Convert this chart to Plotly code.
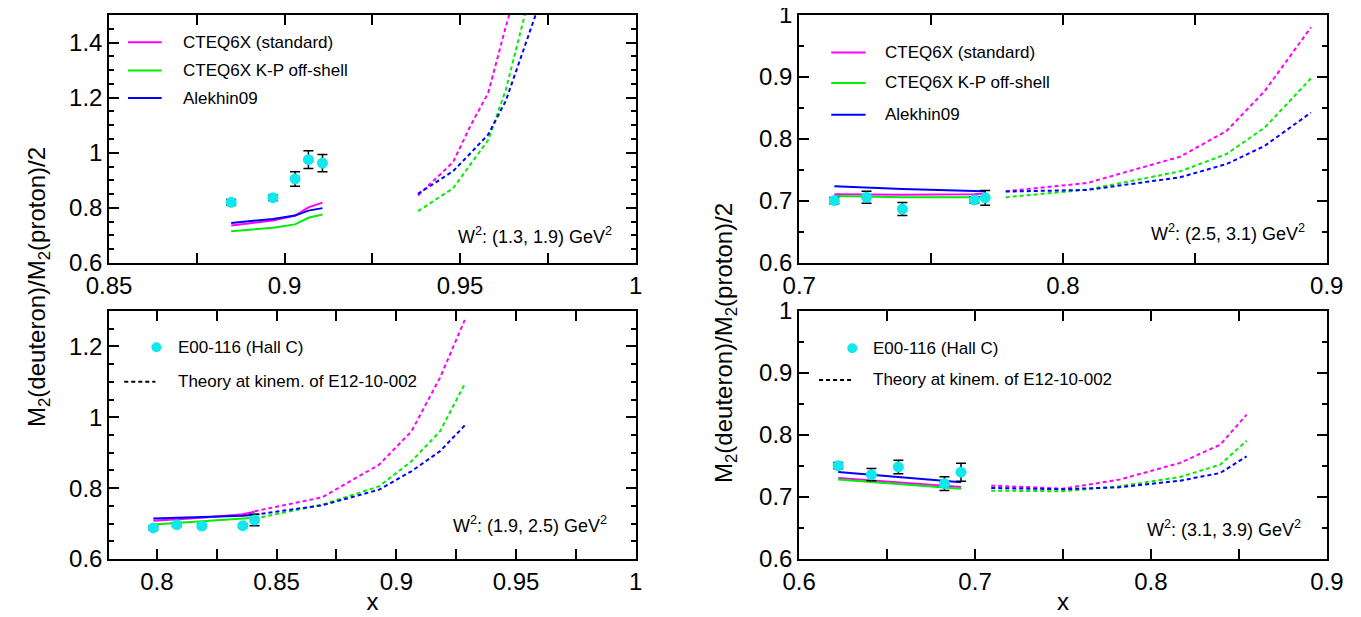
import plotly.graph_objects as go
from plotly.subplots import make_subplots

# ---- data: W^2 (1.3, 1.9) -- top left
tl_x = [0.8848, 0.8967, 0.9030, 0.9068, 0.9108]
tl_y = [0.820, 0.837, 0.905, 0.975, 0.9625]
tl_err = [0.01, 0.01, 0.0265, 0.0325, 0.031]
tl_std = [0.736, 0.754, 0.772, 0.802, 0.819]
tl_kp = [0.715, 0.728, 0.740, 0.764, 0.776]
tl_alk = [0.745, 0.760, 0.772, 0.790, 0.799]
tl_xt = [0.938, 0.948, 0.953, 0.958, 0.963, 0.968, 0.973]
tl_std_t = [0.845, 0.966, 1.099, 1.217, 1.457, 1.67, 1.90]
tl_kp_t = [0.788, 0.871, 0.959, 1.046, 1.2275, 1.48, 1.73]
tl_alk_t = [0.851, 0.933, 0.999, 1.066, 1.188, 1.372, 1.555]

# ---- data: W^2 (2.5, 3.1) -- top right
tr_x = [0.7133, 0.7255, 0.7391, 0.7664, 0.7705]
tr_y = [0.7007, 0.706, 0.687, 0.7017, 0.705]
tr_err = [0.005, 0.0096, 0.0104, 0.005, 0.012]
tr_std = [0.711, 0.710, 0.710, 0.711, 0.712]
tr_kp = [0.708, 0.707, 0.706, 0.706, 0.706]
tr_alk = [0.7237, 0.7215, 0.7195, 0.716, 0.7155]
tr_xt = [0.7783, 0.8092, 0.8444, 0.862, 0.8765, 0.894]
tr_std_t = [0.7157, 0.729, 0.7714, 0.813, 0.8774, 0.980]
tr_kp_t = [0.706, 0.7183, 0.7478, 0.7757, 0.8185, 0.8977]
tr_alk_t = [0.7152, 0.7178, 0.7382, 0.7596, 0.789, 0.8426]

# ---- data: W^2 (1.9, 2.5) -- bottom left
bl_x = [0.7985, 0.8083, 0.8188, 0.8359, 0.8408]
bl_y = [0.6875, 0.6968, 0.6931, 0.694, 0.710]
bl_err = [0.005, 0.005, 0.005, 0.005, 0.016]
bl_std = [0.708, 0.711, 0.716, 0.726, 0.733]
bl_kp = [0.697, 0.701, 0.705, 0.712, 0.716]
bl_alk = [0.714, 0.716, 0.718, 0.722, 0.725]
bl_xt = [0.8408, 0.869, 0.8928, 0.9063, 0.9182, 0.9286]
bl_std_t = [0.7346, 0.774, 0.866, 0.960, 1.111, 1.275]
bl_kp_t = [0.7138, 0.7533, 0.805, 0.8757, 0.960, 1.094]
bl_alk_t = [0.725, 0.7515, 0.7956, 0.8475, 0.904, 0.977]

# ---- data: W^2 (3.1, 3.9) -- bottom right
br_x = [0.6222, 0.6411, 0.6564, 0.6826, 0.692]
br_y = [0.7505, 0.736, 0.7484, 0.7215, 0.740]
br_err = [0.005, 0.010, 0.011, 0.011, 0.0145]
br_std = [0.7306, 0.7267, 0.7235, 0.718, 0.7161]
br_kp = [0.728, 0.724, 0.7208, 0.7154, 0.7134]
br_alk = [0.7403, 0.7358, 0.7322, 0.7259, 0.7237]
br_xt = [0.7092, 0.75, 0.7821, 0.8166, 0.8394, 0.8544]
br_std_t = [0.7183, 0.7134, 0.728, 0.755, 0.7844, 0.8328]
br_kp_t = [0.7102, 0.7092, 0.7172, 0.7323, 0.7521, 0.7908]
br_alk_t = [0.7145, 0.7124, 0.7156, 0.7263, 0.7387, 0.7656]

w2_labels = ['(1.3, 1.9)', '(2.5, 3.1)', '(1.9, 2.5)', '(3.1, 3.9)']
model_names = ['CTEQ6X (standard)', 'CTEQ6X K-P off-shell', 'Alekhin09']
data_name = 'E00-116 (Hall C)'
theory_name = 'Theory at kinem. of E12-10-002'

MAG = '#ff00ff'
GRN = '#00ee00'
BLU = '#0000ff'
CYN = '#10e8ee'
FONT = 'Liberation Sans, Arial, sans-serif'

panels = [
    (1, 1, tl_x, tl_y, tl_err, tl_std, tl_kp, tl_alk, tl_xt, tl_std_t, tl_kp_t, tl_alk_t),
    (1, 2, tr_x, tr_y, tr_err, tr_std, tr_kp, tr_alk, tr_xt, tr_std_t, tr_kp_t, tr_alk_t),
    (2, 1, bl_x, bl_y, bl_err, bl_std, bl_kp, bl_alk, bl_xt, bl_std_t, bl_kp_t, bl_alk_t),
    (2, 2, br_x, br_y, br_err, br_std, br_kp, br_alk, br_xt, br_std_t, br_kp_t, br_alk_t),
]

fig = make_subplots(rows=2, cols=2)

for r, c, x, y, err, s, k, a, xt, st, kt, at in panels:
    for vals, col in [(s, MAG), (k, GRN), (a, BLU)]:
        fig.add_trace(go.Scatter(x=x, y=vals, mode='lines',
                                 line=dict(color=col, width=2), showlegend=False),
                      row=r, col=c)
    for vals, col in [(st, MAG), (kt, GRN), (at, BLU)]:
        fig.add_trace(go.Scatter(x=xt, y=vals, mode='lines',
                                 line=dict(color=col, width=2, dash='4px,3px'),
                                 showlegend=False),
                      row=r, col=c)
    fig.add_trace(go.Scatter(x=x, y=y, mode='markers',
                             marker=dict(color=CYN, size=11),
                             error_y=dict(type='data', array=err, color='black',
                                          thickness=1.5, width=5),
                             showlegend=False),
                  row=r, col=c)

# axis geometry (paper fractions)
W, H = 1361, 617
xdom = {1: [101 / W, 628 / W], 2: [791 / W, 1319 / W]}
ydom = {1: [1 - 255 / H, 1 - 7 / H], 2: [1 - 551 / H, 1 - 303 / H]}

axis_style = dict(showline=True, linecolor='black', linewidth=1.5, mirror='ticks',
                  ticks='inside', ticklen=10, tickwidth=1.5, tickcolor='black',
                  showgrid=False, zeroline=False, automargin=False,
                  ticklabeloverflow='allow',
                  tickfont=dict(family=FONT, size=24, color='black'))

xcfg = {
    (1, 1): dict(range=[0.85, 1.0001], dtick=0.05, tick0=0.85, minor=0.025),
    (1, 2): dict(range=[0.6999, 0.9001], dtick=0.1, tick0=0.7, minor=0.05),
    (2, 1): dict(range=[0.78, 1.0001], dtick=0.05, tick0=0.8, minor=0.025),
    (2, 2): dict(range=[0.5999, 0.9001], dtick=0.1, tick0=0.6, minor=0.05),
}
ycfg = {
    (1, 1): dict(range=[0.5999, 1.5], dtick=0.2, tick0=0.6),
    (1, 2): dict(range=[0.5999, 1.0001], dtick=0.1, tick0=0.6),
    (2, 1): dict(range=[0.5999, 1.3], dtick=0.2, tick0=0.6),
    (2, 2): dict(range=[0.5999, 1.0001], dtick=0.1, tick0=0.6),
}

for (r, c), cfg in xcfg.items():
    fig.update_xaxes(domain=xdom[c], range=cfg['range'], dtick=cfg['dtick'], tick0=cfg['tick0'],
                     minor=dict(dtick=cfg['minor'], ticks='inside', ticklen=10,
                                tickwidth=1.5, tickcolor='black'),
                     **axis_style, row=r, col=c)
for (r, c), cfg in ycfg.items():
    fig.update_yaxes(domain=ydom[r], range=cfg['range'], dtick=cfg['dtick'], tick0=cfg['tick0'],
                     minor=dict(dtick=0.05, ticks='inside', ticklen=5,
                                tickwidth=1.5, tickcolor='black'),
                     **axis_style, row=r, col=c)

for c in [1, 2]:
    fig.update_xaxes(title=dict(text='x', standoff=0,
                                font=dict(family=FONT, size=24, color='black')),
                     row=2, col=c)

# legends drawn inside each panel
axrefs = {(1, 1): '', (1, 2): '2', (2, 1): '3', (2, 2): '4'}
shapes = []
annots = []

model_leg = {
    (1, 1): dict(x0=0.036, x1=0.100, xt=0.137, ys=[0.890, 0.776, 0.665]),
    (1, 2): dict(x0=0.061, x1=0.126, xt=0.160, ys=[0.849, 0.726, 0.598]),
}
for key, lg in model_leg.items():
    n = axrefs[key]
    for name, col, yy in zip(model_names, [MAG, GRN, BLU], lg['ys']):
        shapes.append(dict(type='line', xref=f'x{n} domain', yref=f'y{n} domain',
                           x0=lg['x0'], x1=lg['x1'], y0=yy, y1=yy,
                           line=dict(color=col, width=2)))
        annots.append(dict(text=name, xref=f'x{n} domain', yref=f'y{n} domain',
                           x=lg['xt'], y=yy, xanchor='left', yanchor='middle',
                           showarrow=False, font=dict(family=FONT, size=17, color='black')))

data_leg = {
    (2, 1): dict(xm=0.090, ym=0.854, x0=0.029, x1=0.088, yd=0.715, xt=0.127),
    (2, 2): dict(xm=0.101, ym=0.850, x0=0.038, x1=0.103, yd=0.722, xt=0.136),
}
for key, lg in data_leg.items():
    n = axrefs[key]
    shapes.append(dict(type='circle', xref=f'x{n} domain', yref=f'y{n} domain',
                       xsizemode='pixel', ysizemode='pixel',
                       xanchor=lg['xm'], yanchor=lg['ym'],
                       x0=-5, x1=5, y0=-5, y1=5,
                       fillcolor=CYN, line=dict(width=0)))
    shapes.append(dict(type='line', xref=f'x{n} domain', yref=f'y{n} domain',
                       x0=lg['x0'], x1=lg['x1'], y0=lg['yd'], y1=lg['yd'],
                       line=dict(color='black', width=2, dash='4px,3px')))
    annots.append(dict(text=data_name, xref=f'x{n} domain', yref=f'y{n} domain',
                       x=lg['xt'], y=lg['ym'], xanchor='left', yanchor='middle',
                       showarrow=False, font=dict(family=FONT, size=17, color='black')))
    annots.append(dict(text=theory_name, xref=f'x{n} domain', yref=f'y{n} domain',
                       x=lg['xt'], y=lg['yd'], xanchor='left', yanchor='middle',
                       showarrow=False, font=dict(family=FONT, size=17, color='black')))

w2_pos = {(1, 1): (0.958, 0.112), (1, 2): (0.962, 0.123),
          (2, 1): (0.949, 0.138), (2, 2): (0.954, 0.125)}
for key, lab in zip([(1, 1), (1, 2), (2, 1), (2, 2)], w2_labels):
    n = axrefs[key]
    xx, yy = w2_pos[key]
    annots.append(dict(text=f'W<sup>2</sup>: {lab} GeV<sup>2</sup>',
                       xref=f'x{n} domain', yref=f'y{n} domain',
                       x=xx, y=yy, xanchor='right', yanchor='middle',
                       showarrow=False, font=dict(family=FONT, size=18, color='black')))

ytitle = 'M<sub>2</sub>(deuteron)/M<sub>2</sub>(proton)/2'
for px, py in [(30, 279), (717, 335)]:
    annots.append(dict(text=ytitle, xref='paper', yref='paper',
                       x=px / W, y=1 - py / H, textangle=-90,
                       xanchor='center', yanchor='middle', showarrow=False,
                       font=dict(family=FONT, size=24, color='black')))

fig.update_layout(width=W, height=H, margin=dict(l=0, r=0, t=0, b=0),
                  plot_bgcolor='white', paper_bgcolor='white',
                  shapes=shapes, annotations=annots, showlegend=False)

fig.write_html('out.html')
